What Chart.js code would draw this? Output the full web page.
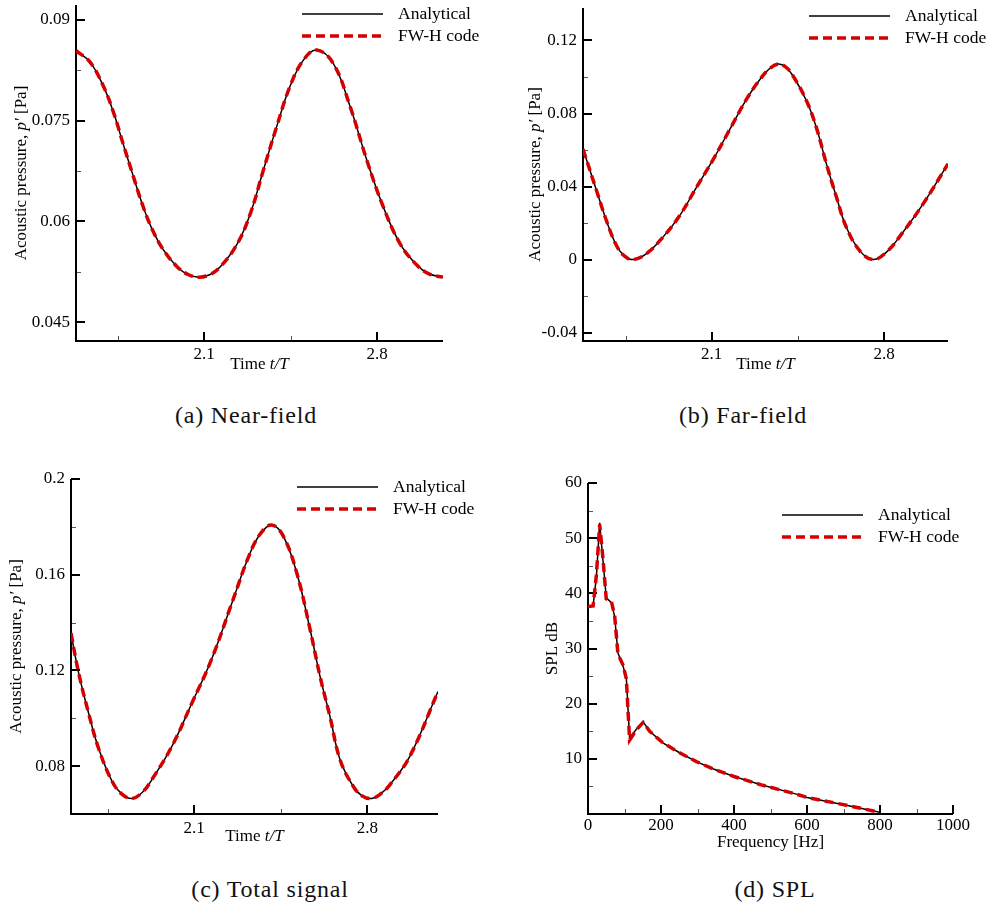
<!DOCTYPE html>
<html>
<head>
<meta charset="utf-8">
<script src="https://cdn.jsdelivr.net/npm/chart.js@4.4.1/dist/chart.umd.min.js"></script>
<style>
body{margin:0;background:#fff;width:993px;height:905px;position:relative;overflow:hidden}
canvas{position:absolute}
.cap{position:absolute;font-family:'Liberation Serif','Times New Roman',serif;font-size:24px;letter-spacing:0.8px;transform:translate(-50%,-50%);white-space:nowrap;color:#111}
</style>
</head>
<body>
<canvas id="near" width="490" height="390" style="left:0;top:0"></canvas>
<canvas id="far" width="497" height="390" style="left:496px;top:0"></canvas>
<canvas id="total" width="490" height="420" style="left:0;top:450px"></canvas>
<canvas id="spl" width="497" height="420" style="left:496px;top:450px"></canvas>
<div class="cap" style="left:246px;top:415px">(a) Near-field</div>
<div class="cap" style="left:743px;top:415px">(b) Far-field</div>
<div class="cap" style="left:270px;top:889px">(c) Total signal</div>
<div class="cap" style="left:775px;top:889px">(d) SPL</div>
<script>
//----------------------------------DATA-----------------------------------------------------------

const seriesNames = ['Analytical', 'FW-H code']

// (a) near-field, time t/T vs p'
const nearT = [1.582, 1.639, 1.693, 1.733, 1.773, 1.814, 1.848, 1.888, 1.935, 1.990, 2.035, 2.080, 2.125, 2.165, 2.232, 2.286, 2.340, 2.394, 2.448, 2.502, 2.556, 2.623, 2.691, 2.758, 2.825, 2.893, 2.961, 3.010, 3.067]
const nearP = [0.0854, 0.0837, 0.0801, 0.0763, 0.0715, 0.0667, 0.0628, 0.0590, 0.0558, 0.0533, 0.0521, 0.0517, 0.0521, 0.0532, 0.0565, 0.0610, 0.0676, 0.0741, 0.0801, 0.0840, 0.0855, 0.0835, 0.0771, 0.0692, 0.0622, 0.0567, 0.0535, 0.0522, 0.0517]

// (b) far-field
const farT = [1.577, 1.632, 1.672, 1.713, 1.745, 1.780, 1.835, 1.902, 1.970, 2.038, 2.105, 2.173, 2.241, 2.295, 2.330, 2.369, 2.400, 2.430, 2.485, 2.525, 2.566, 2.607, 2.647, 2.701, 2.755, 2.810, 2.877, 2.959, 3.060]
const farP = [0.0606, 0.0378, 0.0214, 0.0077, 0.0020, 0.0000, 0.0033, 0.0123, 0.0241, 0.0396, 0.0546, 0.0712, 0.0878, 0.0985, 0.1040, 0.1071, 0.1055, 0.1007, 0.0870, 0.0724, 0.0524, 0.0341, 0.0177, 0.0049, 0.0000, 0.0041, 0.0150, 0.0305, 0.0524]

// (c) total signal
const totalT = [1.602, 1.633, 1.673, 1.713, 1.768, 1.808, 1.848, 1.890, 1.929, 2.010, 2.091, 2.171, 2.252, 2.322, 2.367, 2.414, 2.461, 2.515, 2.569, 2.609, 2.649, 2.690, 2.743, 2.780, 2.818, 2.855, 2.892, 2.972, 3.086]
const totalP = [0.1356, 0.1189, 0.1022, 0.0876, 0.0737, 0.0683, 0.0665, 0.0690, 0.0744, 0.0883, 0.1064, 0.1248, 0.1480, 0.1680, 0.1770, 0.1808, 0.1760, 0.1607, 0.1370, 0.1175, 0.1008, 0.0827, 0.0716, 0.0675, 0.0665, 0.0685, 0.0723, 0.0841, 0.1112]

// (d) SPL spectrum
const freq = [0, 14, 23, 32, 41, 50, 64, 73, 82, 96, 105, 114, 132, 151, 169, 205, 251, 297, 342, 400, 479, 571, 600, 708, 799]
const splAnalytical = [37.7, 37.8, 43.0, 52.8, 46.0, 39.2, 38.3, 35.8, 29.2, 26.8, 24.7, 13.8, 15.3, 16.7, 15.0, 12.9, 11.1, 9.5, 8.2, 6.8, 5.2, 3.6, 3.0, 1.6, 0.3]
const splFwh = [37.6, 37.7, 43.3, 52.5, 46.3, 39.0, 38.5, 36.0, 29.0, 27.0, 24.5, 13.4, 15.2, 16.6, 15.0, 12.9, 11.1, 9.5, 8.2, 6.8, 5.2, 3.6, 3.0, 1.6, 0.3]

// ticks
const timeTicks = [2.1, 2.8]
const timeMinor = [1.75, 2.45]
const nearTicks = [0.045, 0.06, 0.075, 0.09]
const nearMinor = [0.0525, 0.0675, 0.0825]
const farTicks = [-0.04, 0, 0.04, 0.08, 0.12]
const farMinor = [-0.02, 0.02, 0.06, 0.1]
const totalTicks = [0.08, 0.12, 0.16, 0.2]
const totalMinor = [0.1, 0.14, 0.18]
const freqTicks = [0, 200, 400, 600, 800, 1000]
const freqMinor = [100, 300, 500, 700, 900]
const splTicks = [10, 20, 30, 40, 50, 60]
const splMinor = [5, 15, 25, 35, 45, 55]

//----------------------------------LAYOUT-----------------------------------------------------------

const FONT = "'Liberation Serif', 'Times New Roman', serif"
const RED = '#d40000'
const timeTitle = [['Time ', false], ['t/T', true]]
const pressureTitle = [['Acoustic pressure, ', false], ['p\u2032', true], [' [Pa]', false]]

const panels = [
    {id:'near', t:nearT, a:nearP, f:nearP, xr:[1.582, 3.067], yr:[0.0422, 0.0922],
     xt:timeTicks, xm:timeMinor, yt:nearTicks, ym:nearMinor, xTitle:timeTitle, yTitle:pressureTitle,
     yW:76, pad:{top:5, right:47, bottom:19, left:0}, xPad:3, xTitleDy:24, yTitleDx:-54, leg:[-141, 9], smooth:true},
    {id:'far', t:farT, a:farP, f:farP, xr:[1.577, 3.060], yr:[-0.0446, 0.1378],
     xt:timeTicks, xm:timeMinor, yt:farTicks, ym:farMinor, xTitle:timeTitle, yTitle:pressureTitle,
     yW:87, pad:{top:8, right:45, bottom:19, left:0}, xPad:3, xTitleDy:24, yTitleDx:-47, leg:[-139, 8], smooth:true},
    {id:'total', t:totalT, a:totalP, f:totalP, xr:[1.602, 3.086], yr:[0.06, 0.2],
     xt:timeTicks, xm:timeMinor, yt:totalTicks, ym:totalMinor, xTitle:timeTitle, yTitle:pressureTitle,
     yW:71, pad:{top:29, right:52, bottom:26, left:0}, xPad:4, xTitleDy:23, yTitleDx:-54, leg:[-141, 8], smooth:true},
    {id:'spl', t:freq, a:splAnalytical, f:splFwh, xr:[0, 1000], yr:[0, 60],
     xt:freqTicks, xm:freqMinor, yt:splTicks, ym:splMinor, xTitle:[['Frequency [Hz]', false]], yTitle:[['SPL dB', false]],
     yW:92, pad:{top:33, right:40, bottom:26, left:0}, xPad:1, xTitleDy:29, yTitleDx:-35, leg:[-171, 32], smooth:false},
]

//----------------------------------PLUGIN-----------------------------------------------------------

function fontStr(italic, size){
    return (italic ? 'italic ' : '') + size + 'px ' + FONT
}

function drawRich(ctx, parts, size){
    let widths = parts.map(p => { ctx.font = fontStr(p[1], size); return ctx.measureText(p[0]).width })
    let total = widths.reduce((s, w) => s + w, 0)
    let cx = -total / 2
    parts.forEach((p, i) => {
        ctx.font = fontStr(p[1], size)
        ctx.fillText(p[0], cx, 0)
        cx += widths[i]
    })
}

const paperAxes = {
    id: 'paperAxes',
    beforeDatasetsDraw(chart, args, o){
        const ctx = chart.ctx
        const a = chart.chartArea
        const xs = chart.scales.x, ys = chart.scales.y
        ctx.save()
        ctx.strokeStyle = '#555'
        ctx.lineWidth = 1
        ctx.beginPath()
        o.xm.forEach(v => { let px = Math.round(xs.getPixelForValue(v)) + 0.5; ctx.moveTo(px, a.bottom); ctx.lineTo(px, a.bottom - 5) })
        o.ym.forEach(v => { let py = Math.round(ys.getPixelForValue(v)) + 0.5; ctx.moveTo(a.left, py); ctx.lineTo(a.left + 5, py) })
        ctx.stroke()
        ctx.strokeStyle = '#000'
        ctx.lineWidth = 2
        ctx.beginPath()
        xs.ticks.forEach(t => { let px = Math.round(xs.getPixelForValue(t.value)); ctx.moveTo(px, a.bottom); ctx.lineTo(px, a.bottom - 9) })
        ys.ticks.forEach(t => { let py = Math.round(ys.getPixelForValue(t.value)); ctx.moveTo(a.left, py); ctx.lineTo(a.left + 9, py) })
        ctx.moveTo(a.left, a.top)
        ctx.lineTo(a.left, a.bottom)
        ctx.lineTo(a.right, a.bottom)
        ctx.stroke()
        ctx.restore()
    },
    afterDraw(chart, args, o){
        const ctx = chart.ctx
        const a = chart.chartArea
        ctx.save()
        ctx.fillStyle = '#000'
        ctx.textBaseline = 'middle'
        ctx.textAlign = 'left'
        // axis titles
        ctx.save()
        ctx.translate((a.left + a.right) / 2, a.bottom + o.xTitleDy)
        drawRich(ctx, o.xTitle, 17)
        ctx.restore()
        ctx.save()
        ctx.translate(a.left + o.yTitleDx, (a.top + a.bottom) / 2)
        ctx.rotate(-Math.PI / 2)
        drawRich(ctx, o.yTitle, 17)
        ctx.restore()
        // legend
        let lx = a.right + o.leg[0]
        chart.data.datasets.forEach((ds, i) => {
            let ly = a.top + o.leg[1] + i * 22
            ctx.save()
            ctx.strokeStyle = ds.borderColor
            ctx.lineWidth = ds.borderWidth
            ctx.setLineDash(ds.borderDash || [])
            ctx.beginPath()
            ctx.moveTo(lx, ly)
            ctx.lineTo(lx + 81, ly)
            ctx.stroke()
            ctx.restore()
            ctx.font = fontStr(false, 17.5)
            ctx.fillText(ds.label, lx + 96, ly)
        })
        ctx.restore()
    }
}

//----------------------------------CHARTS-----------------------------------------------------------

function pts(x, y){
    return x.map((v, i) => ({x: v, y: y[i]}))
}

function makeChart(p){
    let tension = p.smooth ? 0.4 : 0
    let datasets = [
        {label: seriesNames[0], data: pts(p.t, p.a), borderColor: '#000', borderWidth: 1.5, pointRadius: 0, tension: tension, order: 2},
        {label: seriesNames[1], data: pts(p.t, p.f), borderColor: RED, borderWidth: 3.5, borderDash: [9, 5], pointRadius: 0, tension: tension, order: 1},
    ]
    let tickFont = {family: FONT, size: 17}
    return new Chart(document.getElementById(p.id), {
        type: 'line',
        data: {datasets: datasets},
        options: {
            responsive: false,
            animation: false,
            devicePixelRatio: 1,
            layout: {padding: p.pad},
            plugins: {
                legend: {display: false},
                tooltip: {enabled: false},
                paperAxes: p,
            },
            scales: {
                x: {
                    type: 'linear', min: p.xr[0], max: p.xr[1],
                    grid: {display: false, drawTicks: false}, border: {display: false},
                    ticks: {font: tickFont, color: '#000', padding: p.xPad, autoSkip: false, maxRotation: 0, callback: v => String(v)},
                    afterBuildTicks: s => { s.ticks = p.xt.map(v => ({value: v})) },
                    afterFit: s => { s.height = 30; s.paddingLeft = 0; s.paddingRight = 0 },
                },
                y: {
                    type: 'linear', min: p.yr[0], max: p.yr[1],
                    grid: {display: false, drawTicks: false}, border: {display: false},
                    ticks: {font: tickFont, color: '#000', padding: 6, autoSkip: false, callback: v => String(v)},
                    afterBuildTicks: s => { s.ticks = p.yt.map(v => ({value: v})) },
                    afterFit: s => { s.width = p.yW; s.paddingTop = 0; s.paddingBottom = 0 },
                },
            },
        },
        plugins: [paperAxes],
    })
}

panels.forEach(p => makeChart(p))
</script>
</body>
</html>
